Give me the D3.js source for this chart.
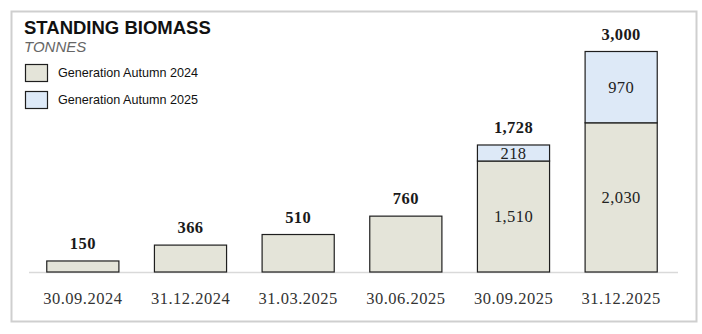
<!DOCTYPE html>
<html>
<head>
<meta charset="utf-8">
<script src="https://cdn.jsdelivr.net/npm/d3@7"></script>
<style>
  html, body { margin: 0; padding: 0; background: #fff; }
  svg { display: block; }
</style>
</head>
<body>
<svg id="chart" width="702" height="334"></svg>
<script>
// Reporting dates (x categories)
const dates = ["30.09.2024", "31.12.2024", "31.03.2025", "30.06.2025", "30.09.2025", "31.12.2025"];
// Standing biomass in tonnes, per generation
const gen2024 = [150, 366, 510, 760, 1510, 2030];
const gen2025 = [0, 0, 0, 0, 218, 970];
const seriesNames = ["Generation Autumn 2024", "Generation Autumn 2025"];
const seriesColors = ["#e4e4d9", "#dde9f7"];

const svg = d3.select("#chart");
const serif = "'Liberation Serif', 'DejaVu Serif', serif";
const sans = "'Liberation Sans', Arial, sans-serif";

// frame
svg.append("rect")
  .attr("x", 11.5).attr("y", 11.5).attr("width", 685).attr("height", 310)
  .attr("fill", "none").attr("stroke", "#cfcfcf").attr("stroke-width", 2);

const baseY = 272;
const x = d3.scaleBand().domain(dates).range([29, 675])
  .paddingInner(0.33).paddingOuter(0.165);
const y = d3.scaleLinear().domain([0, 3000]).range([baseY, 51.5]);

const rows = dates.map((d, i) => ({ date: d, a: gen2024[i], b: gen2025[i] }));
const stack = d3.stack().keys(["a", "b"])(rows);

// axis baseline
svg.append("line")
  .attr("x1", 29).attr("x2", 678).attr("y1", baseY + 0.5).attr("y2", baseY + 0.5)
  .attr("stroke", "#d9d9d9").attr("stroke-width", 1.5);

// stacked bars
stack.forEach((layer, li) => {
  svg.append("g").selectAll("rect")
    .data(layer.filter(s => s[1] - s[0] > 0))
    .join("rect")
    .attr("x", s => x(s.data.date))
    .attr("width", x.bandwidth())
    .attr("y", s => y(s[1]))
    .attr("height", s => y(s[0]) - y(s[1]))
    .attr("fill", seriesColors[li])
    .attr("stroke", "#1e1e1e")
    .attr("stroke-width", 1.2);
});

// segment labels for stacked bars
stack.forEach(layer => {
  svg.append("g").selectAll("text")
    .data(layer.filter(s => s.data.b > 0 && s[1] - s[0] > 0))
    .join("text")
    .attr("x", s => x(s.data.date) + x.bandwidth() / 2)
    .attr("y", s => (y(s[0]) + y(s[1])) / 2)
    .attr("dy", "0.35em")
    .attr("text-anchor", "middle")
    .attr("font-family", serif).attr("font-size", 16.5).attr("letter-spacing", 0.4).attr("fill", "#222")
    .text(s => d3.format(",")(s[1] - s[0]));
});

// totals
svg.append("g").selectAll("text")
  .data(rows)
  .join("text")
  .attr("x", d => x(d.date) + x.bandwidth() / 2)
  .attr("y", d => y(d.a + d.b) - 12)
  .attr("text-anchor", "middle")
  .attr("font-family", serif).attr("font-size", 16.5).attr("letter-spacing", 0.4)
  .attr("font-weight", "bold").attr("fill", "#1a1a1a")
  .text(d => d3.format(",")(d.a + d.b));

// x axis labels
const xAxis = d3.axisBottom(x).tickSize(0).tickPadding(0);
const gx = svg.append("g").attr("transform", `translate(0,${baseY})`).call(xAxis);
gx.select(".domain").remove();
gx.selectAll("text")
  .attr("y", 26).attr("dy", "0.35em")
  .attr("font-family", serif).attr("font-size", 16.5).attr("letter-spacing", 0.5).attr("fill", "#333");

// title
svg.append("text").attr("x", 24).attr("y", 33.5)
  .attr("font-family", sans).attr("font-weight", "bold").attr("font-size", 18.5).attr("fill", "#111")
  .text("STANDING BIOMASS");
svg.append("text").attr("x", 24).attr("y", 52)
  .attr("font-family", sans).attr("font-style", "italic").attr("font-size", 15).attr("fill", "#666")
  .text("TONNES");

// legend
const legend = svg.append("g").selectAll("g")
  .data(seriesNames)
  .join("g")
  .attr("transform", (d, i) => `translate(25.5,${64.5 + i * 27})`);
legend.append("rect")
  .attr("width", 22).attr("height", 17)
  .attr("fill", (d, i) => seriesColors[i])
  .attr("stroke", "#1e1e1e").attr("stroke-width", 1.2);
legend.append("text")
  .attr("x", 32.5).attr("y", 8.5).attr("dy", "0.35em")
  .attr("font-family", sans).attr("font-size", 12.6).attr("fill", "#111")
  .text(d => d);
</script>
</body>
</html>
